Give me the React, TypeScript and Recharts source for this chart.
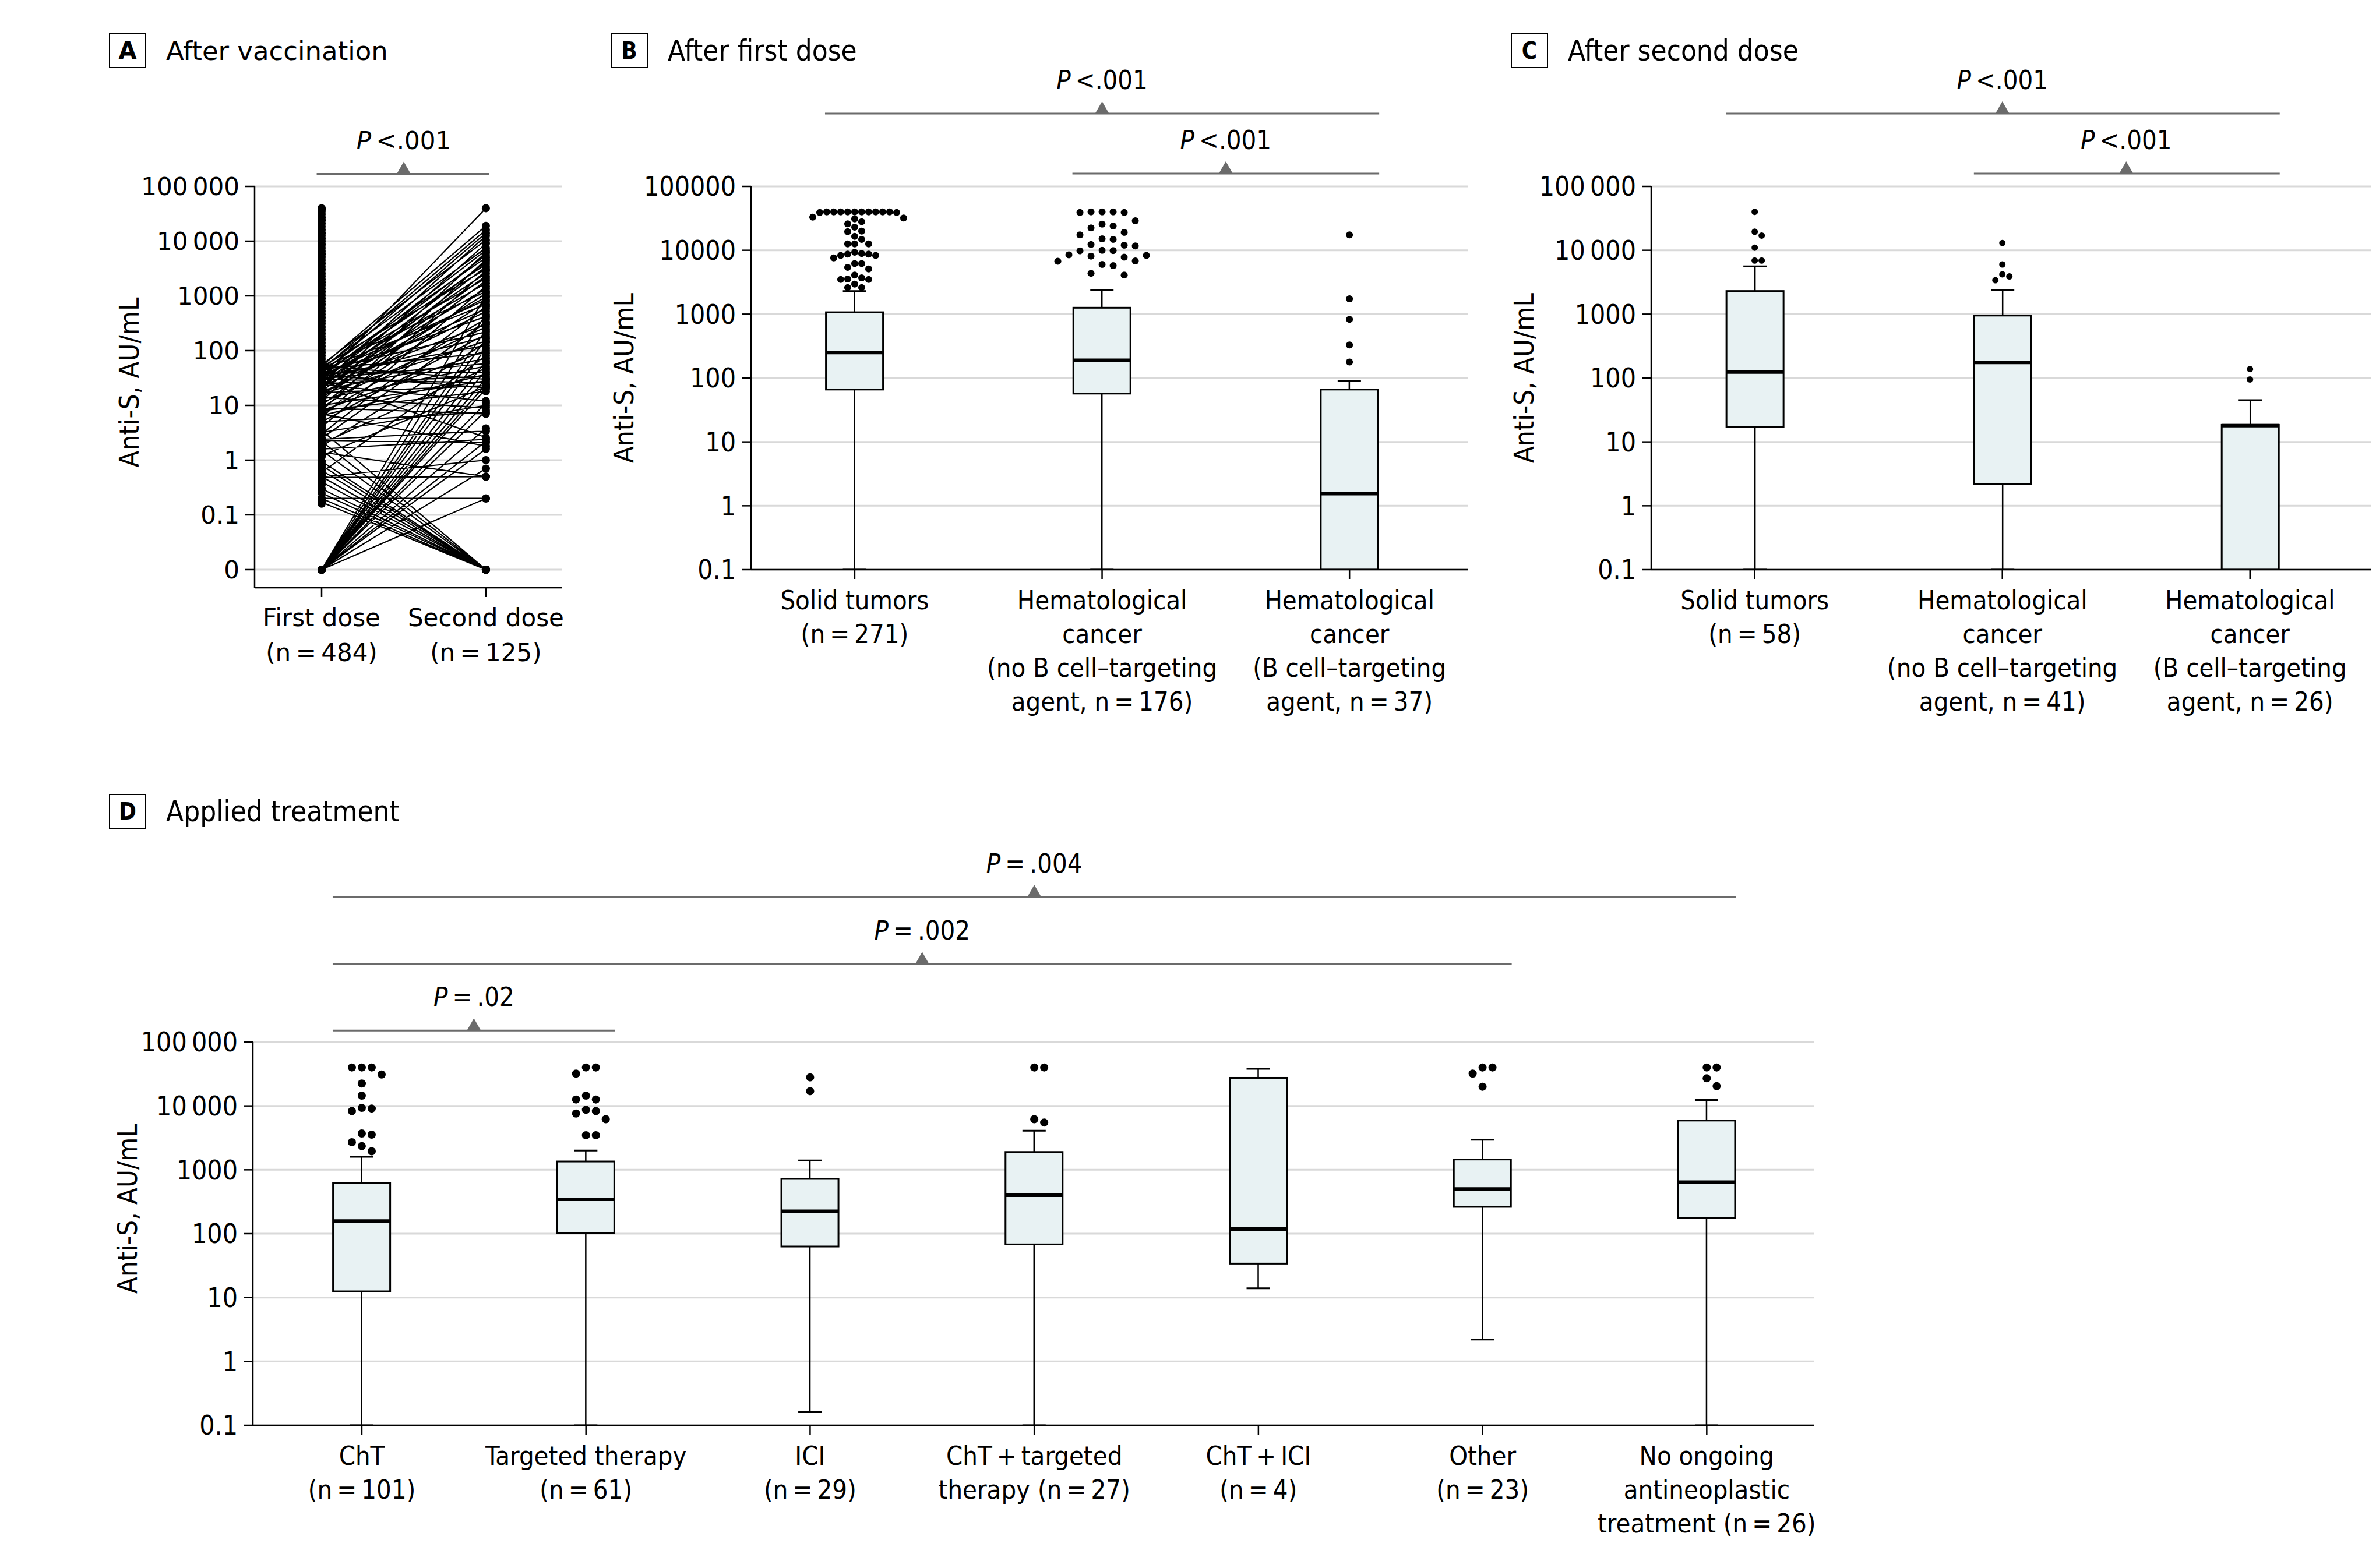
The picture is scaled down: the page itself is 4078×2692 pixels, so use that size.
import React from 'react';
import { ComposedChart, Bar, Scatter, Line, XAxis, YAxis, CartesianGrid, ReferenceLine, ReferenceDot, Label } from 'recharts';

const WIDE = "'DejaVu Sans', sans-serif";
const NARROW = "'DejaVu Sans Condensed', 'Liberation Sans Narrow', 'Roboto Condensed', 'DejaVu Sans', sans-serif";
const BOX_FILL = '#e8f2f3';
const GRID = '#d9d9d9';
const BRACKET = '#6b6b6b';

// ---------- A: after vaccination (paired titres, AU/mL; 0 = undetectable)
const firstDoseOnly = [
  40000, 38000, 35000, 31000, 27000, 24000, 21000, 18500, 16000, 14000, 12500, 11000, 9800, 8600, 7500, 6600,
  5800, 5100, 4500, 3900, 3400, 3000, 2600, 2300, 2000, 1750, 1550, 1350, 1180, 1030, 900, 790, 690, 600, 530,
  460, 400, 350, 310, 270, 235, 205, 180, 158, 138, 120, 105, 92, 80, 70, 61, 53, 47, 41, 36, 32, 28, 24, 21,
  18.5, 16, 14, 12.3, 10.8, 9.5, 8.3, 7.3, 6.4, 5.6, 4.9, 4.3, 3.8, 3.3, 2.9, 2.5, 2.2, 1.95, 1.7, 1.5, 1.3,
  1.15, 0.95, 0.85, 0.75, 0.65, 0.55, 0.48, 0.42, 0.35, 0.3, 0.2, 0.18, 0.16, 0,
];
const pairedTiters: [number, number][] = [
  [30, 40000], [52, 19000], [45, 16000], [38, 14000], [25, 12500], [55, 10500], [20, 9000], [48, 7500],
  [33, 6800], [12, 6200], [28, 5600], [42, 5000], [8, 4600], [22, 4200], [36, 3800], [18, 3400], [50, 3100],
  [6, 2900], [26, 2600], [15, 2300], [40, 2100], [10, 1900], [32, 1700], [4, 1500], [24, 1350], [47, 1200],
  [14, 1100], [0, 1000], [21, 950], [35, 850], [9, 780], [44, 700], [3, 640], [27, 580], [17, 520], [0, 460],
  [37, 420], [7, 380], [2.5, 330], [23, 300], [11, 270], [0, 240], [43, 220], [5, 200], [29, 180], [0, 165],
  [16, 150], [1.8, 140], [34, 125], [0, 110], [8, 100], [46, 90], [0.6, 80], [19, 72], [0, 64], [31, 58],
  [13, 52], [2, 48], [0, 44], [39, 40], [6.5, 37], [25, 34], [0, 31], [52, 30], [10, 28], [30, 26], [0, 24],
  [17, 23], [1.2, 22], [36, 21], [0, 20], [8, 18], [24, 12], [0, 11], [3.2, 10], [14, 9], [0, 8], [5, 7.5],
  [9, 7], [0, 3.8], [2.4, 3.4], [28, 2.6], [1.6, 2.4], [0, 2.2], [2.3, 2.1], [7, 1.8], [0, 1.6], [0.5, 1],
  [0.48, 0.5], [1.4, 0.5], [0, 0.7], [0.2, 0.2], [0, 0.2], [0.95, 0], [0.8, 0], [0.65, 0], [0.5, 0], [0.4, 0],
  [0.3, 0], [0.25, 0], [0.2, 0], [0.17, 0], [1.5, 0], [2.2, 0], [3.5, 0],
];
const doseLabels = [['First dose', '(n\u2009=\u2009484)'], ['Second dose', '(n\u2009=\u2009125)']];
const doseTickLabels = ['0', '0.1', '1', '10', '100', '1000', '10\u2009000', '100\u2009000'];

// ---------- B: after first dose
const firstDoseGroups = [
  ['Solid tumors', '(n\u2009=\u2009271)'],
  ['Hematological', 'cancer', '(no B cell–targeting', 'agent, n\u2009=\u2009176)'],
  ['Hematological', 'cancer', '(B cell–targeting', 'agent, n\u2009=\u200937)'],
];
const firstDoseBoxes = [
  { q1: 66, med: 250, q3: 1070, lo: 0.1, hi: 2300 },
  { q1: 57, med: 190, q3: 1260, lo: 0.1, hi: 2400 },
  { q1: 0.1, med: 1.55, q3: 66, lo: 0.1, hi: 89 },
];
const firstDoseOutliers = [
  [40000, 40000, 40000, 40000, 40000, 40000, 40000, 40000, 40000, 40000, 39000, 39000, 33000, 32000, 31000,
    28000, 26000, 23000, 20000, 19500, 16500, 14800, 12600, 12600, 12600, 9300, 8900, 8700, 8700, 8300, 8300,
    7600, 6200, 6200, 5400, 5100, 4100, 3700, 3550, 3500, 3500, 2950, 2600, 2600],
  [40000, 40000, 40000, 39000, 39000, 29000, 25700, 24000, 22400, 19000, 17400, 15100, 14800, 12300, 12000,
    11700, 10000, 9900, 9800, 8500, 8300, 8100, 7800, 6800, 6750, 6000, 5750, 4350, 4100],
  [17400, 1740, 830, 330, 178],
];

// ---------- C: after second dose
const secondDoseGroups = [
  ['Solid tumors', '(n\u2009=\u200958)'],
  ['Hematological', 'cancer', '(no B cell–targeting', 'agent, n\u2009=\u200941)'],
  ['Hematological', 'cancer', '(B cell–targeting', 'agent, n\u2009=\u200926)'],
];
const secondDoseBoxes = [
  { q1: 17, med: 124, q3: 2300, lo: 0.1, hi: 5600 },
  { q1: 2.2, med: 175, q3: 950, lo: 0.1, hi: 2400 },
  { q1: 0.1, med: 18, q3: 18.5, lo: 0.1, hi: 45 },
];
const secondDoseOutliers = [
  [40000, 19500, 17000, 11000, 6900, 6900],
  [13000, 6000, 4200, 3900, 3400],
  [138, 95],
];

// ---------- D: applied treatment
const treatmentGroups = [
  ['ChT', '(n\u2009=\u2009101)'],
  ['Targeted therapy', '(n\u2009=\u200961)'],
  ['ICI', '(n\u2009=\u200929)'],
  ['ChT\u2009+\u2009targeted', 'therapy (n\u2009=\u200927)'],
  ['ChT\u2009+\u2009ICI', '(n\u2009=\u20094)'],
  ['Other', '(n\u2009=\u200923)'],
  ['No ongoing', 'antineoplastic', 'treatment (n\u2009=\u200926)'],
];
const treatmentBoxes = [
  { q1: 12.5, med: 158, q3: 615, lo: 0.1, hi: 1600 },
  { q1: 102, med: 345, q3: 1350, lo: 0.1, hi: 2000 },
  { q1: 63, med: 225, q3: 720, lo: 0.16, hi: 1400 },
  { q1: 68, med: 400, q3: 1900, lo: 0.1, hi: 4100 },
  { q1: 34, med: 118, q3: 27500, lo: 14, hi: 38000 },
  { q1: 263, med: 500, q3: 1450, lo: 2.2, hi: 2950 },
  { q1: 175, med: 640, q3: 5900, lo: 0.1, hi: 12400 },
];
const treatmentOutliers = [
  [40000, 40000, 40000, 31000, 22400, 14500, 9300, 9100, 8300, 3700, 3550, 2700, 2350, 1950],
  [40000, 40000, 32000, 14500, 12600, 12600, 8700, 8300, 7600, 6200, 3470, 3470],
  [28000, 17000],
  [40000, 40000, 6200, 5500],
  [],
  [40000, 40000, 32000, 20000],
  [40000, 40000, 27000, 20400],
];

const logTickLabels = ['0.1', '1', '10', '100', '1000', '10\u2009000', '100\u2009000'];
const logTickLabelsTight = ['0.1', '1', '10', '100', '1000', '10000', '100000'];

const lg = (v: number) => (v === 0 ? -2 : Math.log10(v));

// simple beeswarm: nudge outliers sideways so they don't overlap
function swarm(values: number[], pxPerDecade: number, gap: number) {
  const placed: { dx: number; py: number }[] = [];
  return [...values].sort((a, b) => b - a).map((v) => {
    const py = -Math.log10(v) * pxPerDecade;
    let dx = 0;
    for (let k = 0; k < 60; k++) {
      const cand = k === 0 ? 0 : (k % 2 === 1 ? 1 : -1) * Math.ceil(k / 2) * gap;
      if (placed.every((p) => Math.hypot(p.dx - cand, p.py - py) >= gap - 0.01)) {
        dx = cand;
        break;
      }
    }
    placed.push({ dx, py });
    return { v, dx };
  });
}

const BoxShape = (props: any) => {
  const { x, y, width, height, payload } = props;
  const top = Math.min(y, y + height);
  const h = Math.abs(height);
  const [lo, hi] = payload.range;
  const k = h / (hi - lo);
  const py = (v: number) => top + (hi - lg(v)) * k;
  const cx = x + width / 2;
  const s = payload.stats;
  const yHi = py(s.hi);
  const yLo = py(s.lo);
  const yMed = py(s.med);
  return (
    <g>
      {s.hi > s.q3 && (
        <g>
          <line x1={cx} x2={cx} y1={yHi} y2={top} stroke="#000" strokeWidth={2.5} />
          <line x1={cx - 20} x2={cx + 20} y1={yHi} y2={yHi} stroke="#000" strokeWidth={3} />
        </g>
      )}
      {s.lo < s.q1 && (
        <g>
          <line x1={cx} x2={cx} y1={top + h} y2={yLo} stroke="#000" strokeWidth={2.5} />
          <line x1={cx - 20} x2={cx + 20} y1={yLo} y2={yLo} stroke="#000" strokeWidth={3} />
        </g>
      )}
      <rect x={x} y={top} width={width} height={h} fill={BOX_FILL} stroke="#000" strokeWidth={3} />
      <line x1={x} x2={x + width} y1={yMed} y2={yMed} stroke="#000" strokeWidth={6} />
    </g>
  );
};

const CategoryTick = (props: any) => {
  const { x, y, payload, labels, font, size, lineGap, firstDy } = props;
  const lines: string[] = labels[Math.round(payload.value) - 1] || [];
  return (
    <text x={x} y={y} textAnchor="middle" fontFamily={font} fontSize={size} fill="#000">
      {lines.map((l, i) => (
        <tspan key={i} x={x} dy={i === 0 ? firstDy : lineGap}>
          {l}
        </tspan>
      ))}
    </text>
  );
};

const bracketMark = (text: string, font: string, size: number) => (p: any) => {
  const { cx, cy } = p;
  return (
    <g>
      <polygon points={`${cx - 12},${cy} ${cx + 12},${cy} ${cx},${cy - 21}`} fill={BRACKET} />
      <text x={cx} y={cy - 42} textAnchor="middle" fontFamily={font} fontSize={size} fill="#000">
        <tspan fontStyle="italic">P</tspan>
        <tspan>{text}</tspan>
      </text>
    </g>
  );
};

const yLabel = (dx: number, dy: number, font: string, size: number) => (p: any) => {
  const vb = p.viewBox;
  const cx = vb.x + dx;
  const cy = vb.y + vb.height / 2 + dy;
  return (
    <text x={cx} y={cy} transform={`rotate(-90 ${cx} ${cy})`} textAnchor="middle" dominantBaseline="central"
      fontFamily={font} fontSize={size} fill="#000">
      Anti-S, AU/mL
    </text>
  );
};

function PanelTag({ left, top, letter, title, font, size }: any) {
  return (
    <div style={{ position: 'absolute', left, top, display: 'flex', alignItems: 'center', fontFamily: font }}>
      <div style={{ width: 60, height: 56, border: '2.5px solid #000', display: 'flex', alignItems: 'center',
        justifyContent: 'center', fontWeight: 'bold', fontSize: 40 }}>{letter}</div>
      <span style={{ marginLeft: 34, fontSize: size }}>{title}</span>
    </div>
  );
}

function BoxPanel(p: any) {
  const plotH = p.height - p.marginTop - p.xAxisHeight;
  const pxPerDecade = plotH / 6;
  const rows = p.boxes.map((b: any, i: number) => ({ x: i + 1, range: [lg(b.q1), lg(b.q3)], stats: b }));
  const dots = p.outliers.flatMap((vals: number[], i: number) =>
    swarm(vals, pxPerDecade, p.gaps[i]).map((d) => ({ x: i + 1, y: lg(d.v), dx: d.dx })),
  );
  const ticks = p.boxes.map((_: any, i: number) => i + 1);
  return (
    <div style={{ position: 'absolute', left: p.left, top: p.top }}>
      <ComposedChart width={p.width} height={p.height} data={rows}
        margin={{ top: p.marginTop, right: p.marginRight, bottom: 0, left: 0 }}>
        <CartesianGrid vertical={false} stroke={GRID} strokeWidth={3} />
        <XAxis type="number" dataKey="x" domain={p.domainX} allowDataOverflow ticks={ticks} interval={0}
          height={p.xAxisHeight} tickSize={16} axisLine={{ stroke: '#000', strokeWidth: 2.5 }}
          tickLine={{ stroke: '#000', strokeWidth: 2.5 }}
          tick={(t: any) => <CategoryTick {...t} labels={p.groups} font={NARROW} size={45} lineGap={58} firstDy={50} />} />
        <YAxis type="number" domain={[-1, 5]} allowDataOverflow ticks={[-1, 0, 1, 2, 3, 4, 5]} interval={0}
          width={p.yAxisWidth} tickSize={16} tickMargin={10}
          tickFormatter={(v: number) => p.tickLabels[v + 1]}
          tick={{ fill: '#000', fontSize: 46, fontFamily: NARROW }}
          axisLine={{ stroke: '#000', strokeWidth: 2.5 }} tickLine={{ stroke: '#000', strokeWidth: 2.5 }}>
          <Label content={yLabel(p.labelDx, p.labelDy, NARROW, 47)} />
        </YAxis>
        <Bar dataKey="range" barSize={98} shape={BoxShape} isAnimationActive={false} />
        <Scatter data={dots} dataKey="y" isAnimationActive={false}
          shape={(s: any) => <circle cx={s.cx + (s.payload?.dx || 0)} cy={s.cy} r={p.dotR} fill="#000" />} />
        {p.brackets.map((b: any, i: number) => (
          <ReferenceLine key={`l${i}`} segment={[{ x: b.x1, y: b.y }, { x: b.x2, y: b.y }]} stroke={BRACKET}
            strokeWidth={3} ifOverflow="visible" />
        ))}
        {p.brackets.map((b: any, i: number) => (
          <ReferenceDot key={`d${i}`} x={b.mid} y={b.y} ifOverflow="visible" shape={bracketMark(b.text, NARROW, 45)} />
        ))}
      </ComposedChart>
    </div>
  );
}

function PairedPanel() {
  const lineData = pairedTiters.flatMap(([a, b]) => [
    { x: 1, y: lg(a) },
    { x: 2, y: lg(b) },
    { x: 1.5, y: null },
  ]);
  const firstDots = [...firstDoseOnly, ...pairedTiters.map((q) => q[0])].map((v) => ({ x: 1, y: lg(v) }));
  const secondDots = pairedTiters.map((q) => ({ x: 2, y: lg(q[1]) }));
  const dot = (s: any) => <circle cx={s.cx} cy={s.cy} r={7} fill="#000" />;
  return (
    <div style={{ position: 'absolute', left: 150, top: 100 }}>
      <ComposedChart width={830} height={1109} margin={{ top: 220, right: 15, bottom: 0, left: 0 }}>
        <CartesianGrid vertical={false} stroke={GRID} strokeWidth={3} />
        <XAxis type="number" dataKey="x" domain={[0.592, 2.465]} allowDataOverflow ticks={[1, 2]} interval={0}
          height={200} tickSize={16} axisLine={{ stroke: '#000', strokeWidth: 2.5 }}
          tickLine={{ stroke: '#000', strokeWidth: 2.5 }}
          tick={(t: any) => <CategoryTick {...t} labels={doseLabels} font={WIDE} size={42} lineGap={60} firstDy={48} />} />
        <YAxis type="number" domain={[-2.33, 5]} allowDataOverflow ticks={[-2, -1, 0, 1, 2, 3, 4, 5]} interval={0}
          width={287} tickSize={16} tickMargin={10}
          tickFormatter={(v: number) => doseTickLabels[v + 2]}
          tick={{ fill: '#000', fontSize: 42, fontFamily: WIDE }}
          axisLine={{ stroke: '#000', strokeWidth: 2.5 }} tickLine={{ stroke: '#000', strokeWidth: 2.5 }}>
          <Label content={yLabel(71, -8, NARROW, 47)} />
        </YAxis>
        <Line data={lineData} dataKey="y" stroke="#000" strokeWidth={2.2} dot={false} connectNulls={false}
          isAnimationActive={false} />
        <Scatter data={firstDots} dataKey="y" shape={dot} isAnimationActive={false} />
        <Scatter data={secondDots} dataKey="y" shape={dot} isAnimationActive={false} />
        <ReferenceLine segment={[{ x: 0.97, y: 5.23 }, { x: 2.02, y: 5.23 }]} stroke={BRACKET} strokeWidth={3}
          ifOverflow="visible" />
        <ReferenceDot x={1.5} y={5.23} ifOverflow="visible" shape={bracketMark('\u2009<.001', WIDE, 42)} />
      </ComposedChart>
    </div>
  );
}

export default function App() {
  return (
    <div style={{ position: 'absolute', left: 0, top: 0, width: 4078, height: 2692, background: '#fff', color: '#000' }}>
      <PanelTag left={187} top={57} letter="A" title="After vaccination" font={WIDE} size={45} />
      <PanelTag left={1048} top={57} letter="B" title="After first dose" font={NARROW} size={49} />
      <PanelTag left={2593} top={57} letter="C" title="After second dose" font={NARROW} size={49} />
      <PanelTag left={187} top={1363} letter="D" title="Applied treatment" font={NARROW} size={49} />

      <PairedPanel />

      <BoxPanel left={1000} top={100} width={1530} height={1140} marginTop={220} xAxisHeight={262} marginRight={10}
        yAxisWidth={289} domainX={[0.581, 3.48]} groups={firstDoseGroups} boxes={firstDoseBoxes}
        outliers={firstDoseOutliers} gaps={[12, 19, 12]} dotR={6} tickLabels={logTickLabelsTight}
        labelDx={70} labelDy={0}
        brackets={[
          { x1: 0.88, x2: 3.12, mid: 2, y: 6.14, text: '\u2009<.001' },
          { x1: 1.88, x2: 3.12, mid: 2.5, y: 5.2, text: '\u2009<.001' },
        ]} />

      <BoxPanel left={2550} top={100} width={1525} height={1140} marginTop={220} xAxisHeight={262} marginRight={5}
        yAxisWidth={284} domainX={[0.582, 3.49]} groups={secondDoseGroups} boxes={secondDoseBoxes}
        outliers={secondDoseOutliers} gaps={[12, 12, 12]} dotR={5.5} tickLabels={logTickLabels}
        labelDx={65} labelDy={0}
        brackets={[
          { x1: 0.885, x2: 3.12, mid: 2, y: 6.14, text: '\u2009<.001' },
          { x1: 1.885, x2: 3.12, mid: 2.5, y: 5.2, text: '\u2009<.001' },
        ]} />

      <BoxPanel left={150} top={1450} width={2974} height={1225} marginTop={339} xAxisHeight={228} marginRight={10}
        yAxisWidth={284} domainX={[0.514, 7.48]} groups={treatmentGroups} boxes={treatmentBoxes}
        outliers={treatmentOutliers} gaps={[17, 17, 17, 17, 17, 17, 17]} dotR={7} tickLabels={logTickLabels}
        labelDx={68} labelDy={-43}
        brackets={[
          { x1: 0.87, x2: 7.13, mid: 4, y: 7.27, text: '\u2009=\u2009.004' },
          { x1: 0.87, x2: 6.13, mid: 3.5, y: 6.22, text: '\u2009=\u2009.002' },
          { x1: 0.87, x2: 2.13, mid: 1.5, y: 5.18, text: '\u2009=\u2009.02' },
        ]} />
    </div>
  );
}
